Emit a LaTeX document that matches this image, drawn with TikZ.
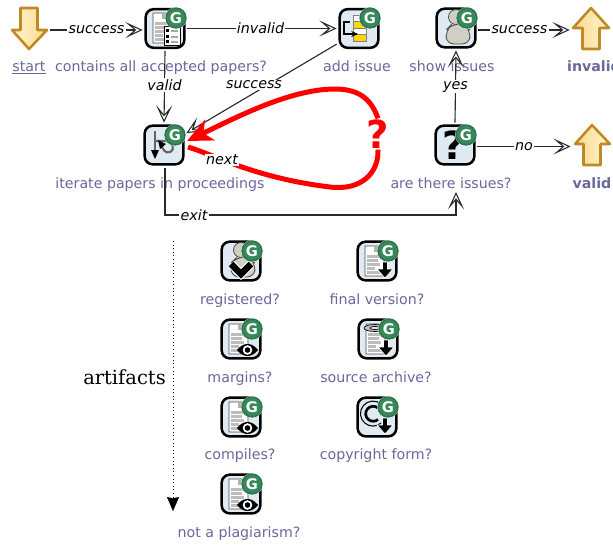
\documentclass[tikz,border=0pt]{standalone}
\usepackage{fontspec}
\setmainfont{DejaVu Sans}
\newfontfamily\serifface{DejaVu Serif}
\usetikzlibrary{arrows.meta}
\definecolor{labelc}{HTML}{68689C}
\definecolor{boxc}{HTML}{DFEAF2}
\definecolor{badgec}{HTML}{37885A}
\definecolor{badged}{HTML}{2B7449}
\definecolor{arrowb}{HTML}{BF8A24}
\definecolor{arrowl}{HTML}{FFF4CF}
\definecolor{arrowd}{HTML}{FBD98C}
\definecolor{personc}{HTML}{CFCFC4}
\definecolor{barc}{HTML}{BDBDBD}
\definecolor{wirec}{HTML}{2A2A2A}
\tikzset{
 x=0.75pt,y=-0.75pt,
 iconbox/.style={draw=black,line width=1.9pt,fill=boxc,rounded corners=6pt,minimum size=29pt,inner sep=0pt,outer sep=2.25pt},
 lab/.style={text=labelc,font=\fontsize{10.65pt}{12pt}\selectfont,inner sep=0pt,anchor=mid},
 blab/.style={lab,font=\fontsize{10.65pt}{12pt}\selectfont\bfseries},
 edgelab/.style={fill=white,inner sep=1pt,font=\fontsize{10.7pt}{12pt}\selectfont\itshape,text=black},
 wire/.style={draw=wirec,line width=0.85pt,-{Stealth[open,length=13pt,width=12pt,inset=7pt,line width=.8pt]}},
 redline/.style={draw=red,line width=3.75pt},
 arrowdown/.style={draw=arrowb,line width=1.9pt,line join=round,left color=arrowl,right color=arrowd},
 arrowup/.style={draw=arrowb,line width=1.9pt,line join=round,left color=arrowd,right color=arrowl},
 anchorbox/.style={minimum width=26pt,minimum height=31pt,inner sep=0pt,outer sep=3pt},
 doc/.style={fill=white,draw=black!70,line width=.4pt},
}
% G badge on an icon
\newcommand{\badge}[1]{%
 \fill[white] (11,-10) circle (11);
 \draw[fill=badgec,draw=badged,line width=1pt] (11,-10) circle (10);
 \node[text=white,inner sep=0pt,font=\fontsize{11pt}{11pt}\selectfont\bfseries] (#1g) at (11,-10) {G};
}
\newcommand{\paper}{%
 \draw[doc] (-12,-15)--(1,-15)--(7,-9)--(7,15)--(-12,15)--cycle;
 \fill[gray!60] (-3,-15)--(1,-15)--(1,-9)--(-3,-9)--cycle;
 \foreach \yy/\ww in {-6/3,-2/1,2/3,6/-2,10/3}{\fill[barc] (-10,\yy) rectangle (\ww,\yy+2.6);}
}
\newcommand{\eyeglyph}{%
 \fill[black] (-4,11) .. controls (2,3) and (11,3) .. (17,11) .. controls (11,19) and (2,19) .. (-4,11)--cycle;
 \fill[white] (6.5,11) circle (4.8);
 \fill[black] (6.5,11) circle (2.8);
}
\newcommand{\downglyph}{%
 \draw[white,line width=.5pt,fill=black] (5.5,1)--(10.5,1)--(10.5,8)--(16,8)--(8,17)--(0,8)--(5.5,8)--cycle;
}
\newcommand{\personglyph}{%
 \draw[fill=personc,draw=black!70,line width=.6pt] (0,-11) circle (7.5);
 \draw[fill=personc,draw=black!70,line width=.6pt,rounded corners=6pt] (-10,16)--(-10,2)--(-4,-4)--(9,-4)--(14,2)--(14,16)--cycle;
}
\begin{document}
\begin{tikzpicture}
\useasboundingbox (0,0) rectangle (613,544);

% texts under the icons
\node[lab] (tstart) at (29,68) {\underline{start}};
\node[lab] (tcontains) at (161,68) {contains all accepted papers?};
\node[lab] (tadd) at (357,68) {add issue};
\node[lab] (tshow) at (452,68) {show issues};
\node[blab] (tinvalid) at (594,68) {invalid};
\node[lab] (titer) at (160,185) {iterate papers in proceedings};
\node[lab] (tare) at (451,185) {are there issues?};
\node[blab] (tvalid) at (592,185) {valid};
\node[lab] (treg) at (240,301) {registered?};
\node[lab] (tfinal) at (377,301) {final version?};
\node[lab] (tmarg) at (240,379) {margins?};
\node[lab] (tsrc) at (376,379) {source archive?};
\node[lab] (tcomp) at (240,456) {compiles?};
\node[lab] (tcopy) at (376,456) {copyright form?};
\node[lab] (tplag) at (239,534) {not a plagiarism?};
\node[font=\fontsize{14.6pt}{16pt}\selectfont\serifface,inner sep=0pt] (tart) at (124.5,377) {artifacts};

% yellow arrows
\node[anchorbox] (start) at (29,30) {};
\node[anchorbox] (invalid) at (591,30) {};
\node[anchorbox] (valid) at (592,146.5) {};
\path[arrowdown] (20.5,8)--(37.5,8)--(37.5,30)--(47,30)--(29,49)--(12,30)--(20.5,30)--cycle;
\path[arrowup] (582.5,49)--(599.5,49)--(599.5,28)--(609,28)--(591,8)--(573,28)--(582.5,28)--cycle;
\path[arrowup] (583.5,165)--(600.5,165)--(600.5,144)--(610,144)--(592,125)--(575,144)--(583.5,144)--cycle;

% icons
\node[iconbox] (contains) at (165,28.5) {};
\begin{scope}[shift={(165,28)}]
 \paper
 \draw[fill=white,draw=black,line width=.5pt] (-1,-2) rectangle (15,17);
 \foreach \yy in {1,7,12}{\fill[black] (1,\yy) rectangle (4,\yy+3); \fill[gray!70] (6,\yy+.5) rectangle (13,\yy+2.5);}
 \badge{contains}
\end{scope}

\node[iconbox] (iter) at (164,145) {};
\begin{scope}[shift={(164,145)}]
 \draw[gray!80!black,line width=1.6pt] (-9,-14)--(-9,6);
 \fill[black] (-13,5)--(-5,5)--(-9,14)--cycle;
 \draw[gray!80!black,line width=1.6pt] (-9,-4)--(2,-4) .. controls (8,-4) and (12,4) .. (6,7) .. controls (1,9) and (-1,4) .. (-3,0);
 \fill[black] (-6,-5)--(-4,4)--(2,-1)--cycle;
 \badge{iter}
\end{scope}

\node[iconbox] (add) at (359,28.5) {};
\begin{scope}[shift={(359,28)}]
 \foreach \yy/\cc in {-13/white,-6.5/yellow!75!orange,0/white,6.5/yellow!75!orange}{\draw[fill=\cc,draw=gray,line width=.4pt] (-6,\yy) rectangle (7,\yy+6.5);}
 \draw[black,line width=.9pt,-{Stealth[length=5pt,width=4.5pt]}] (-9,-6)--(-15,-6)--(-15,6)--(-1,6);
 \badge{add}
\end{scope}

\node[iconbox] (show) at (456,28) {};
\begin{scope}[shift={(456,28)}]
 \personglyph
 \badge{show}
\end{scope}

\node[iconbox] (are) at (455,145) {};
\begin{scope}[shift={(455,145)}]
 \node[inner sep=0pt,font=\fontsize{29pt}{29pt}\selectfont\bfseries] (areq) at (-1,0) {?};
 \badge{are}
\end{scope}

\node[iconbox] (reg) at (241,261) {};
\begin{scope}[shift={(241,261)}]
 \personglyph
 \draw[black,line width=5pt,line join=miter,preaction={draw=white,line width=6.5pt}] (-10,3)--(0,13)--(10,3);
 \badge{reg}
\end{scope}

\node[iconbox] (final) at (377,261) {};
\begin{scope}[shift={(377,261)}]
 \paper
 \downglyph
 \badge{final}
\end{scope}

\node[iconbox] (marg) at (241,339) {};
\begin{scope}[shift={(241,339)}]
 \paper
 \eyeglyph
 \badge{marg}
\end{scope}

\node[iconbox] (src) at (378,339) {};
\begin{scope}[shift={(378,339)}]
 \paper
 \draw[fill=gray!50,draw=black,line width=.5pt] (-3,-11) ellipse (11 and 3.5);
 \draw[fill=gray!20,draw=black,line width=.5pt] (-3,-11) ellipse (5 and 1.6);
 \downglyph
 \badge{src}
\end{scope}

\node[iconbox] (comp) at (241,417) {};
\begin{scope}[shift={(241,417)}]
 \paper
 \eyeglyph
 \badge{comp}
\end{scope}

\node[iconbox] (copy) at (377,417) {};
\begin{scope}[shift={(377,417)}]
 \draw[black,line width=.8pt] (4,-13) arc (-50:-310:12.5);
 \draw[black,line width=2pt] (1,-9) arc (-50:-310:7.5);
 \downglyph
 \badge{copy}
\end{scope}

\node[iconbox] (plag) at (241,494) {};
\begin{scope}[shift={(241,494)}]
 \paper
 \eyeglyph
 \badge{plag}
\end{scope}

% connectors
\draw[wire] (start.east) -- node[edgelab] (e1) {success} (start.east -| contains.west);
\draw[wire] (contains.east) -- node[edgelab,pos=.49] (e2) {invalid} (add.west);
\draw[wire] (contains.south) -- node[edgelab,pos=.48] (e3) {valid} (iter.north);
\draw[wire] (add.215) -- (iter.28);
\node[edgelab] (e4) at (254,85) {success};
\draw[wire] (show.east |- invalid.west) -- node[edgelab,pos=.45] (e5) {success} (invalid.west);
\draw[wire] (are.north) -- node[edgelab,pos=.5] (e6) {yes} (show.south);
\draw[wire] (are.east |- valid.west) -- node[edgelab,pos=.5] (e7) {no} (valid.west);
\coordinate (c1) at (165,215);
\coordinate (c2) at (456,215);
\coordinate (c3) at (456,192);
\draw[wire] (165,168) -- (c1) -- node[edgelab,pos=.1] (e8) {exit} (c2) -- (c3);

% red loop
\node[text=red,inner sep=0pt,outer sep=1pt,font=\fontsize{29pt}{29pt}\selectfont\bfseries] (ques) at (378,134) {?};
\draw[redline,-{Stealth[length=19pt,width=17pt,inset=5.5pt]}] (ques.north) .. controls (372,102) and (362,89) .. (335,89) .. controls (290,89) and (235,118) .. (187,141);
\draw[redline] (188,147) .. controls (215,155) and (255,178) .. (330,187) .. controls (362,191) and (379,172) .. (ques.south);
\node[edgelab] (enext) at (222,160) {next};

% artifacts timeline
\coordinate (ta) at (173,241);
\coordinate (tb) at (173,511);
\draw[black,line width=.7pt,dotted,-{Stealth[length=10.5pt,width=9pt,inset=1pt,line width=.1pt]}] (ta) -- (tb);
\end{tikzpicture}
\end{document}
